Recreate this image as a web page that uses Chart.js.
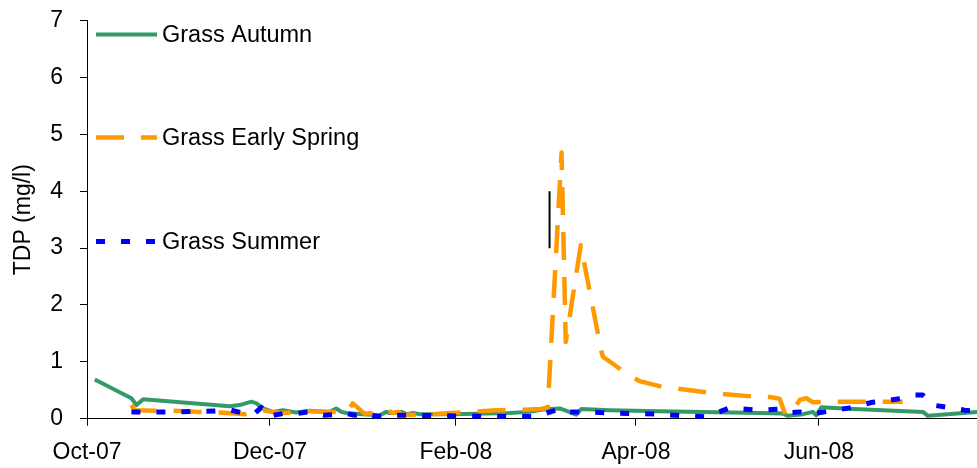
<!DOCTYPE html>
<html>
<head>
<meta charset="utf-8">
<script src="https://cdn.jsdelivr.net/npm/chart.js@4.4.1/dist/chart.umd.min.js"></script>
<style>
    body { margin: 0; background: #fff; }
    #box { width: 977px; height: 468px; }
</style>
</head>
<body>
<div id="box"><canvas id="tdpChart" width="977" height="468"></canvas></div>
<script>
// days counted from 1 Oct 2007
var monthDays = [0, 61, 123, 183, 244];
var monthLabels = ["Oct-07", "Dec-07", "Feb-08", "Apr-08", "Jun-08"];

var autumnDays = [2.6, 14.8, 16.5, 18.7, 47.6, 50.9, 54.8, 56.5, 58.7, 62, 65.3, 69.8, 74.2, 80.9, 83.1, 84.8, 86.5, 92, 97.6, 99.8, 100.9, 103.1, 104.8, 106.5, 108.7, 110.9, 122, 140.9, 147.6, 152, 157.6, 159.2, 163.1, 164.8, 174.2, 190.9, 224.2, 232, 233.7, 238.7, 242, 243.1, 244.8, 252, 278.7, 280.3, 297];
var autumnTdp = [0.69, 0.36, 0.24, 0.34, 0.22, 0.24, 0.30, 0.27, 0.18, 0.12, 0.15, 0.11, 0.14, 0.12, 0.18, 0.12, 0.10, 0.08, 0.06, 0.12, 0.10, 0.10, 0.12, 0.08, 0.10, 0.08, 0.08, 0.10, 0.12, 0.16, 0.18, 0.15, 0.07, 0.17, 0.15, 0.13, 0.10, 0.09, 0.05, 0.08, 0.12, 0.06, 0.20, 0.18, 0.12, 0.05, 0.12];

var springDays = [14.8, 15.9, 23, 29.2, 37, 44.3, 53, 58.7, 61.5, 65.2, 73.6, 82, 86.9, 88.6, 92.5, 97.2, 99.9, 102, 103.5, 105.5, 112, 121.5, 127.6, 136.5, 142.6, 151.5, 153.6, 158.2, 159.6, 164.6, 171.5, 172, 178.1, 184.2, 191.9, 206.9, 221.9, 228, 230.9, 232.9, 235.9, 237.6, 239.8, 241.9, 247.6, 271.9];
var springTdp = [0.24, 0.15, 0.14, 0.14, 0.12, 0.11, 0.08, 0.15, 0.12, 0.10, 0.13, 0.12, 0.13, 0.27, 0.09, 0.10, 0.15, 0.10, 0.12, 0.07, 0.07, 0.10, 0.12, 0.15, 0.15, 0.17, 0.20, 4.68, 1.35, 3.05, 1.18, 1.09, 0.86, 0.66, 0.56, 0.46, 0.39, 0.38, 0.35, 0.06, 0.19, 0.33, 0.36, 0.29, 0.30, 0.30];

var summerDays = [14.8, 20, 30, 40, 48, 52, 55.9, 58.1, 60.2, 65.3, 70, 73.7, 79.2, 86.5, 89.2, 93.7, 96.5, 100, 110, 120, 135, 149.8, 157.6, 159.2, 164.8, 175.9, 189.8, 200.2, 205.9, 208.1, 214.2, 224.2, 230.3, 232.6, 237.6, 239.8, 243.6, 245.9, 254.2, 261.9, 270.2, 275.9, 278.6, 281.9, 292.6, 297];
var summerTdp = [0.12, 0.12, 0.12, 0.13, 0.15, 0.10, 0.09, 0.20, 0.04, 0.09, 0.09, 0.12, 0.06, 0.09, 0.06, 0.09, 0.04, 0.06, 0.06, 0.05, 0.04, 0.04, 0.17, 0.12, 0.12, 0.10, 0.08, 0.05, 0.035, 0.065, 0.19, 0.15, 0.165, 0.10, 0.12, 0.09, 0.10, 0.12, 0.19, 0.29, 0.345, 0.415, 0.415, 0.24, 0.15, 0.13];

var barDays = [154.2, 154.2];
var barTdp = [3, 4];

// legend rows sit at these TDP levels
var keyLevels = [6.76, 4.95, 3.12];

function pts(days, vals) {
    return days.map((d, i) => ({ x: d, y: vals[i] }));
}

var font = "'Liberation Sans', Arial, sans-serif";

//legend drawn inside the plot, like the excel one
var sideKey = {
    id: "sideKey",
    afterDatasetsDraw(chart) {
        var ctx = chart.ctx;
        var y = chart.scales.y;
        var row = 0;
        chart.data.datasets.forEach((ds) => {
            if (!ds.label) return;
            var py = Math.round(y.getPixelForValue(keyLevels[row])) + 0.5;
            ctx.save();
            ctx.strokeStyle = ds.borderColor;
            ctx.lineWidth = ds.borderWidth;
            ctx.setLineDash(ds.borderDash || []);
            ctx.lineCap = "butt";
            ctx.beginPath();
            ctx.moveTo(96, py);
            ctx.lineTo(157, py);
            ctx.stroke();
            ctx.setLineDash([]);
            ctx.fillStyle = "#000";
            ctx.font = "23.5px " + font;
            ctx.textBaseline = "middle";
            ctx.fillText(ds.label, 162, py + 1.5);
            ctx.restore();
            row++;
        });
    }
};

var ctx = document.getElementById("tdpChart").getContext("2d");

new Chart(ctx, {
    type: "line",
    data: {
        datasets: [
            { label: "Grass Autumn", data: pts(autumnDays, autumnTdp), borderColor: "#339966", borderWidth: 4, order: 3 },
            { label: "Grass Early Spring", data: pts(springDays, springTdp), borderColor: "#FF9900", borderWidth: 4.5, borderDash: [28, 17], order: 2 },
            { label: "Grass Summer", data: pts(summerDays, summerTdp), borderColor: "#0000FF", borderWidth: 5, borderDash: [9, 16], order: 1 },
            { label: "", data: pts(barDays, barTdp), borderColor: "#000", borderWidth: 2, order: 0 }
        ]
    },
    options: {
        responsive: false,
        animation: false,
        devicePixelRatio: 1,
        layout: { padding: { top: 20.7, right: 0, left: 0, bottom: 0 } },
        elements: {
            point: { radius: 0 },
            line: { tension: 0, fill: false, borderCapStyle: "butt", borderJoinStyle: "round" }
        },
        plugins: {
            legend: { display: false },
            tooltip: { enabled: false }
        },
        scales: {
            x: {
                type: "linear",
                min: 0,
                max: 296.7,
                afterBuildTicks: (s) => { s.ticks = monthDays.map((v) => ({ value: v })); },
                afterFit: (s) => { s.height = 49.3; s.paddingLeft = 0; s.paddingRight = 0; },
                grid: { drawOnChartArea: false, tickLength: 7, color: "#000" },
                border: { color: "#000", width: 1 },
                ticks: {
                    autoSkip: false,
                    maxRotation: 0,
                    padding: 13,
                    color: "#000",
                    font: { family: font, size: 23 },
                    callback: (v) => monthLabels[monthDays.indexOf(v)]
                }
            },
            y: {
                min: 0,
                max: 7,
                afterFit: (s) => { s.width = 87; s.paddingTop = 0; s.paddingBottom = 0; },
                grid: { drawOnChartArea: false, tickLength: 7, color: "#000" },
                border: { color: "#000", width: 1 },
                ticks: { stepSize: 1, padding: 17, color: "#000", font: { family: font, size: 23 } },
                title: { display: true, text: "TDP (mg/l)", color: "#000", padding: { top: 10, bottom: 0 }, font: { family: font, size: 23 } }
            }
        }
    },
    plugins: [sideKey]
});
</script>
</body>
</html>
